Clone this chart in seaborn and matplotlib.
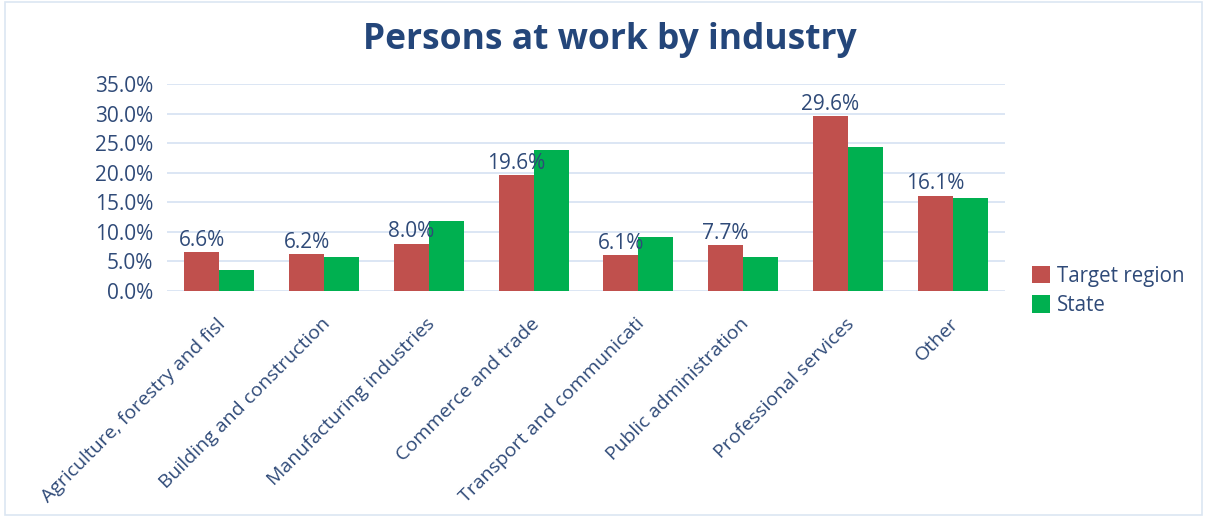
import matplotlib
matplotlib.use("Agg")
import matplotlib.pyplot as plt
import matplotlib.transforms as mtransforms
from matplotlib.patches import Rectangle
from matplotlib.ticker import PercentFormatter, MultipleLocator
import seaborn as sns
import pandas as pd

# Data
categories = [
    "Agriculture, forestry and fisl",
    "Building and construction",
    "Manufacturing industries",
    "Commerce and trade",
    "Transport and communicati",
    "Public administration",
    "Professional services",
    "Other",
]
target_region = [0.066, 0.062, 0.080, 0.196, 0.061, 0.077, 0.296, 0.161]
state = [0.035, 0.058, 0.118, 0.238, 0.092, 0.057, 0.243, 0.157]
series_names = ["Target region", "State"]
title = "Persons at work by industry"

df = pd.DataFrame({
    "Industry": categories * 2,
    "Share": target_region + state,
    "Series": [series_names[0]] * len(categories) + [series_names[1]] * len(categories),
})

sns.set_theme(style="white")
plt.rcParams["font.family"] = ["Open Sans", "DejaVu Sans"]

text_color = "#2F4A78"
title_color = "#24467A"
red = "#C0504D"
green = "#00B050"
grid_color = "#D9E4F3"
label_size = 15

fig = plt.figure(figsize=(12.07, 5.17), dpi=100)
ax = fig.add_axes([167 / 1207, 1 - 291 / 517, 838 / 1207, 207 / 517])

sns.barplot(
    data=df, x="Industry", y="Share", hue="Series",
    palette=[red, green], width=0.67, saturation=1, linewidth=0,
    order=categories, hue_order=series_names, ax=ax, legend=True,
)

ax.set_xlim(-0.5, len(categories) - 0.5)
ax.set_ylim(0, 0.35)
ax.yaxis.set_major_locator(MultipleLocator(0.05))
ax.yaxis.set_major_formatter(PercentFormatter(1.0, decimals=1))
ax.grid(axis="y", color=grid_color, linewidth=1.3)
ax.set_axisbelow(True)
for s in ax.spines.values():
    s.set_visible(False)
ax.set_xlabel("")
ax.set_ylabel("")
ax.tick_params(axis="both", length=0, colors=text_color, labelsize=label_size)
ax.tick_params(axis="x", labelsize=14)
ax.tick_params(axis="y", pad=10)

# Value labels on the target-region bars
ax.bar_label(ax.containers[0], labels=[f"{v*100:.1f}%" for v in target_region],
             padding=1, color=text_color, fontsize=label_size)

# Rotated category labels, ending just right of each category centre
offset = mtransforms.ScaledTranslation(-0.03, -0.19, fig.dpi_scale_trans)
for lbl in ax.get_xticklabels():
    lbl.set_rotation(45)
    lbl.set_ha("right")
    lbl.set_rotation_mode("anchor")
    lbl.set_transform(lbl.get_transform() + offset)

leg = ax.legend(loc="center left", bbox_to_anchor=(1.01, 0.0), frameon=False,
                fontsize=14.8, handlelength=0.87, handleheight=0.9,
                handletextpad=0.33, labelspacing=0.4)
for t in leg.get_texts():
    t.set_color(text_color)

fig.suptitle(title, x=0.505, y=0.957, fontsize=25.5, fontweight="bold", color=title_color)

# Outer chart frame
fig.patches.append(Rectangle((0.004, 0.004), 0.992, 0.992, transform=fig.transFigure,
                             fill=False, edgecolor="#DCE6F2", linewidth=1.2))

fig.savefig("out.png", dpi=100)
